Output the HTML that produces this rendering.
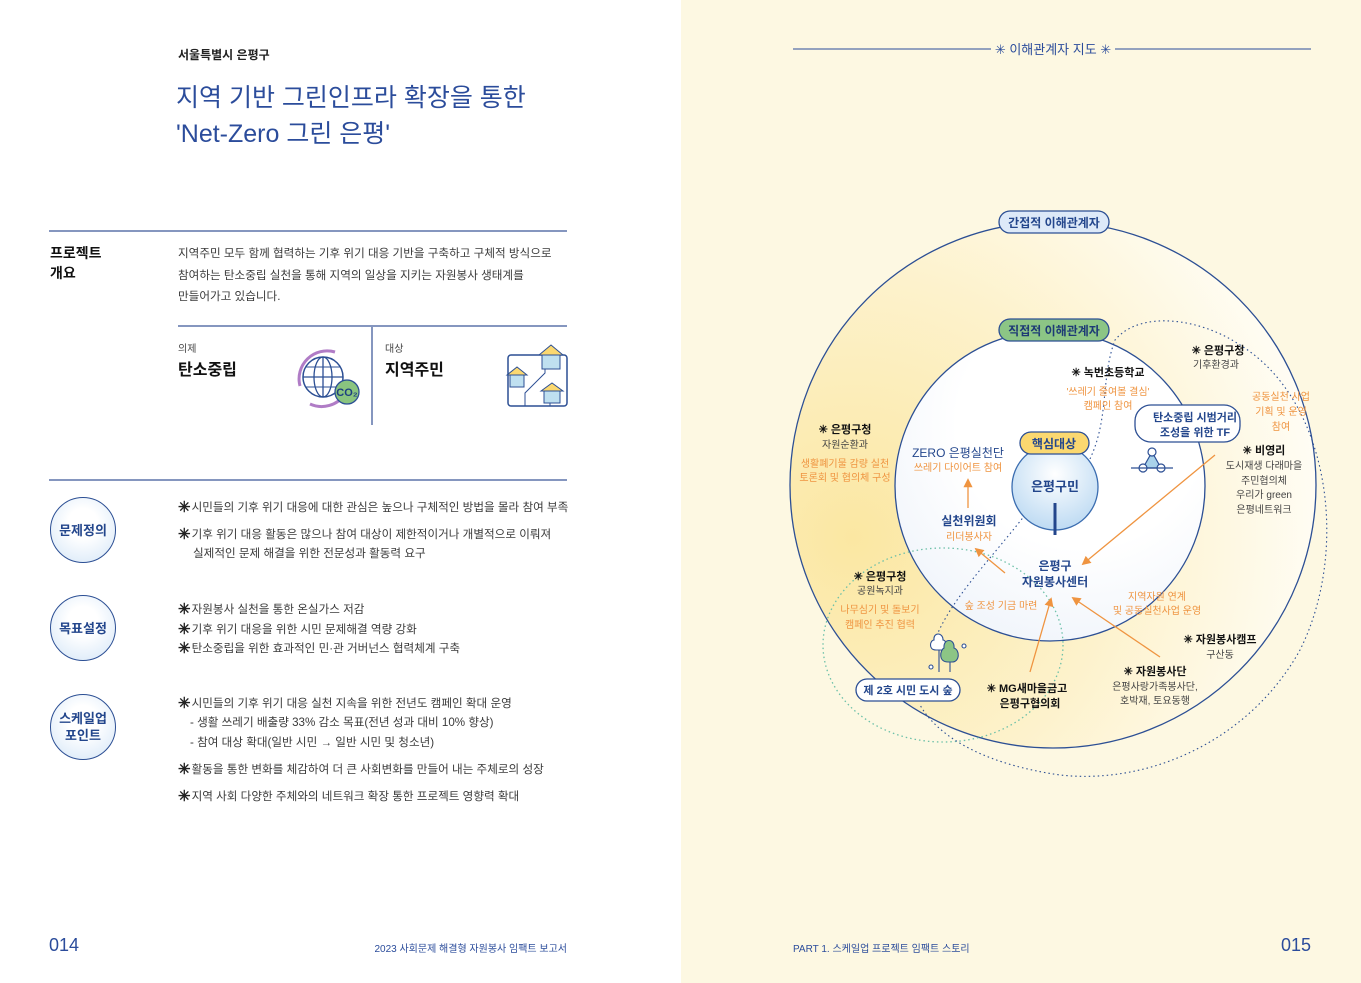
<!DOCTYPE html>
<html><head><meta charset="utf-8"><style>
*{margin:0;padding:0;box-sizing:border-box}
body{width:1361px;height:983px;position:relative;overflow:hidden;background:#fff;font-family:"Liberation Sans","Noto Sans CJK KR",sans-serif;color:#333}
.a{position:absolute;white-space:nowrap}
.t{font-size:11.6px;color:#3a3a3a}
.t b{font-size:15px;line-height:12px;color:#222;vertical-align:-1px;margin-right:1px}
.hr{position:absolute;height:2px;background:#8596bf}
.circ{position:absolute;width:66px;height:66px;border-radius:50%;border:1.5px solid #2c4f94;background:radial-gradient(circle at 50% 40%,#fff 30%,#d3e5f7 100%);display:flex;align-items:center;justify-content:center;text-align:center;font-weight:bold;font-size:13px;color:#23468c;line-height:17px}
</style></head><body>
<div style="position:absolute;left:681px;top:0;width:680px;height:983px;background:#fdf8e2"></div>

<div class="a" style="left:178px;top:46px;font-size:12px;font-weight:bold;color:#222">서울특별시 은평구</div>
<div class="a" style="left:176px;top:80px;font-size:25px;color:#2b4c9b;line-height:36px">지역 기반 그린인프라 확장을 통한<br>'Net-Zero 그린 은평'</div>

<div class="hr" style="left:49px;top:230px;width:518px"></div>
<div class="a" style="left:50px;top:243px;font-size:14px;font-weight:bold;color:#111;line-height:20px">프로젝트<br>개요</div>
<div class="a t" style="left:178px;top:243px;line-height:21.5px">지역주민 모두 함께 협력하는 기후 위기 대응 기반을 구축하고 구체적 방식으로<br>참여하는 탄소중립 실천을 통해 지역의 일상을 지키는 자원봉사 생태계를<br>만들어가고 있습니다.</div>
<div class="hr" style="left:178px;top:325px;width:389px"></div>
<div style="position:absolute;left:371px;top:326px;width:2px;height:99px;background:#8596bf"></div>
<div class="a" style="left:178px;top:340px;font-size:10px;color:#444">의제</div>
<div class="a" style="left:178px;top:356px;font-size:16px;font-weight:bold;color:#111">탄소중립</div>
<div class="a" style="left:385px;top:340px;font-size:10px;color:#444">대상</div>
<div class="a" style="left:385px;top:356px;font-size:16px;font-weight:bold;color:#111">지역주민</div>
<svg class="a" style="left:290px;top:344px" width="75" height="70" viewBox="0 0 75 70">
<path d="M10 42 A28 28 0 0 1 45 8" fill="none" stroke="#b07cc6" stroke-width="3"/>
<path d="M20 60 A28 28 0 0 0 55 50" fill="none" stroke="#b07cc6" stroke-width="3"/>
<circle cx="33" cy="33" r="20" fill="none" stroke="#2c4f94" stroke-width="1.5"/>
<ellipse cx="33" cy="33" rx="9" ry="20" fill="none" stroke="#2c4f94" stroke-width="1.3"/>
<line x1="13" y1="33" x2="53" y2="33" stroke="#2c4f94" stroke-width="1.3"/><line x1="33" y1="13" x2="33" y2="53" stroke="#2c4f94" stroke-width="1.3"/>
<line x1="16" y1="23" x2="50" y2="23" stroke="#2c4f94"/><line x1="16" y1="43" x2="50" y2="43" stroke="#2c4f94"/>
<circle cx="57" cy="48" r="12" fill="#8ac47f" stroke="#2c4f94" stroke-width="1.3"/>
<text x="57" y="52" font-size="11" text-anchor="middle" fill="#1d3f80" font-weight="bold">CO₂</text>
</svg>
<svg class="a" style="left:505px;top:343px" width="65" height="66" viewBox="0 0 65 66">
<rect x="3" y="12" width="59" height="51" rx="3" fill="#fff" stroke="#2c4f94" stroke-width="1.5"/>
<path d="M3 32 H20 M40 12 V30 L20 50 V63 M45 45 V63" stroke="#2c4f94" fill="none"/>
<polygon points="34,12 46,2 58,12" fill="#fbd870" stroke="#2c4f94"/><rect x="37" y="12" width="18" height="14" fill="#bfe0f0" stroke="#2c4f94"/>
<polygon points="2,32 12,24 22,32" fill="#fbd870" stroke="#2c4f94"/><rect x="5" y="32" width="14" height="12" fill="#bfe0f0" stroke="#2c4f94"/>
<polygon points="36,48 47,40 58,48" fill="#fbd870" stroke="#2c4f94"/><rect x="39" y="48" width="16" height="12" fill="#bfe0f0" stroke="#2c4f94"/>
</svg>

<div class="hr" style="left:49px;top:479px;width:518px"></div>
<div class="circ" style="left:50px;top:497px">문제정의</div>
<div class="circ" style="left:50px;top:595px">목표설정</div>
<div class="circ" style="left:50px;top:694px">스케일업<br>포인트</div>

<div class="a t" style="left:178px;top:499px"><b>✳</b>시민들의 기후 위기 대응에 대한 관심은 높으나 구체적인 방법을 몰라 참여 부족</div>
<div class="a t" style="left:178px;top:526px"><b>✳</b>기후 위기 대응 활동은 많으나 참여 대상이 제한적이거나 개별적으로 이뤄져</div>
<div class="a t" style="left:193px;top:545px">실제적인 문제 해결을 위한 전문성과 활동력 요구</div>
<div class="a t" style="left:178px;top:601px"><b>✳</b>자원봉사 실천을 통한 온실가스 저감</div>
<div class="a t" style="left:178px;top:621px"><b>✳</b>기후 위기 대응을 위한 시민 문제해결 역량 강화</div>
<div class="a t" style="left:178px;top:640px"><b>✳</b>탄소중립을 위한 효과적인 민·관 거버넌스 협력체계 구축</div>
<div class="a t" style="left:178px;top:695px"><b>✳</b>시민들의 기후 위기 대응 실천 지속을 위한 전년도 캠페인 확대 운영</div>
<div class="a t" style="left:190px;top:714px">- 생활 쓰레기 배출량 33% 감소 목표(전년 성과 대비 10% 향상)</div>
<div class="a t" style="left:190px;top:734px">- 참여 대상 확대(일반 시민 → 일반 시민 및 청소년)</div>
<div class="a t" style="left:178px;top:761px"><b>✳</b>활동을 통한 변화를 체감하여 더 큰 사회변화를 만들어 내는 주체로의 성장</div>
<div class="a t" style="left:178px;top:788px"><b>✳</b>지역 사회 다양한 주체와의 네트워크 확장 통한 프로젝트 영향력 확대</div>

<div class="a" style="left:49px;top:935px;font-size:18px;color:#2b4c9b">014</div>
<div class="a" style="right:794px;top:940px;font-size:10px;color:#2b4c9b">2023 사회문제 해결형 자원봉사 임팩트 보고서</div>
<div class="a" style="left:793px;top:940px;font-size:10px;color:#2b4c9b">PART 1. 스케일업 프로젝트 임팩트 스토리</div>
<div class="a" style="right:50px;top:935px;font-size:18px;color:#2b4c9b">015</div>

<svg class="a" style="left:0;top:0" width="1361" height="983" viewBox="0 0 1361 983" font-family="Liberation Sans, Noto Sans CJK KR, sans-serif">
<defs>
<radialGradient id="yg" cx="0.12" cy="0.6" r="0.9"><stop offset="0" stop-color="#fbe7a2"/><stop offset="0.55" stop-color="#fdf2cc"/><stop offset="1" stop-color="#fffdf5"/></radialGradient>
<radialGradient id="wg" cx="0.6" cy="0.3" r="0.8"><stop offset="0.5" stop-color="#fff"/><stop offset="1" stop-color="#eef3fa"/></radialGradient>
<radialGradient id="bg" cx="0.5" cy="0.35" r="0.7"><stop offset="0" stop-color="#fff"/><stop offset="1" stop-color="#b9d8f2"/></radialGradient>
<marker id="ar" viewBox="0 0 10 10" refX="8" refY="5" markerWidth="7" markerHeight="7" orient="auto"><path d="M0 0 L10 5 L0 10 z" fill="#ef9440"/></marker>
</defs>
<line x1="793" y1="49" x2="991" y2="49" stroke="#2b4c9b"/><line x1="1115" y1="49" x2="1311" y2="49" stroke="#2b4c9b"/>
<text x="1053" y="54" font-size="13" text-anchor="middle" fill="#2b4c9b">✳ 이해관계자 지도 ✳</text>

<circle cx="1053" cy="485" r="263" fill="url(#yg)" stroke="#2c4f94" stroke-width="1.3"/>
<circle cx="1050" cy="486" r="155" fill="url(#wg)" stroke="#2c4f94" stroke-width="1.3"/>
<ellipse cx="943" cy="645" rx="120" ry="97" fill="none" stroke="#6cc0a8" stroke-width="1.3" stroke-dasharray="1.5 3"/>
<path d="M1088 463 C1110 420 1100 380 1115 340 C1140 310 1200 318 1240 345 C1330 400 1350 550 1300 650 C1250 740 1150 785 1060 775 C990 765 940 740 920 705" fill="none" stroke="#2c4f94" stroke-width="1.1" stroke-dasharray="1.5 3"/>
<path d="M1025 515 C990 560 950 600 935 640" fill="none" stroke="#2c4f94" stroke-width="1.1" stroke-dasharray="1.5 3"/>

<rect x="999" y="211" width="110" height="22" rx="11" fill="#dde9f8" stroke="#2c4f94" stroke-width="1.3"/>
<text x="1054" y="227" font-size="12" font-weight="bold" text-anchor="middle" fill="#23468c">간접적 이해관계자</text>
<rect x="999" y="319" width="110" height="22" rx="11" fill="#8cc585" stroke="#2c4f94" stroke-width="1.3"/>
<text x="1054" y="335" font-size="12" font-weight="bold" text-anchor="middle" fill="#1d3a75">직접적 이해관계자</text>

<circle cx="1055" cy="487" r="43" fill="url(#bg)" stroke="#3b6db0" stroke-width="1.3"/>
<rect x="1020" y="432" width="69" height="22" rx="11" fill="#fbd870" stroke="#2c4f94" stroke-width="1.3"/>
<text x="1054" y="448" font-size="12" font-weight="bold" text-anchor="middle" fill="#23468c">핵심대상</text>
<text x="1055" y="491" font-size="13" font-weight="bold" text-anchor="middle" fill="#23468c">은평구민</text>
<line x1="1055" y1="503" x2="1055" y2="535" stroke="#23468c" stroke-width="3"/>
<text x="1055" y="570" font-size="12" font-weight="bold" text-anchor="middle" fill="#23468c">은평구</text>
<text x="1055" y="586" font-size="12" font-weight="bold" text-anchor="middle" fill="#23468c">자원봉사센터</text>

<g text-anchor="middle" font-size="10">
<text x="958" y="457" font-size="12" fill="#23468c">ZERO 은평실천단</text>
<text x="958" y="471" fill="#ef9440">쓰레기 다이어트 참여</text>
<text x="969" y="525" font-size="12" font-weight="bold" fill="#23468c">실천위원회</text>
<text x="969" y="540" fill="#ef9440">리더봉사자</text>
<text x="1108" y="376" font-size="11" font-weight="bold" fill="#111">✳ 녹번초등학교</text>
<text x="1108" y="395" fill="#ef9440">'쓰레기 줄여볼 결심'</text>
<text x="1108" y="409" fill="#ef9440">캠페인 참여</text>
<text x="1218" y="354" font-size="11" font-weight="bold" fill="#111">✳ 은평구청</text>
<text x="1216" y="368" fill="#444">기후환경과</text>
<text x="1281" y="400" fill="#ef9440">공동실천 사업</text>
<text x="1281" y="415" fill="#ef9440">기획 및 운영</text>
<text x="1281" y="430" fill="#ef9440">참여</text>
<text x="1264" y="454" font-size="11" font-weight="bold" fill="#111">✳ 비영리</text>
<text x="1264" y="469" fill="#444">도시재생 다래마을</text>
<text x="1264" y="484" fill="#444">주민협의체</text>
<text x="1264" y="498" fill="#444">우리가 green</text>
<text x="1264" y="513" fill="#444">은평네트워크</text>
<text x="845" y="433" font-size="11" font-weight="bold" fill="#111">✳ 은평구청</text>
<text x="845" y="448" fill="#444">자원순환과</text>
<text x="845" y="467" fill="#ef9440">생활폐기물 감량 실천</text>
<text x="845" y="481" fill="#ef9440">토론회 및 협의체 구성</text>
<text x="880" y="580" font-size="11" font-weight="bold" fill="#111">✳ 은평구청</text>
<text x="880" y="594" fill="#444">공원녹지과</text>
<text x="880" y="613" fill="#ef9440">나무심기 및 돌보기</text>
<text x="880" y="628" fill="#ef9440">캠페인 추진 협력</text>
<text x="1001" y="609" fill="#ef9440">숲 조성 기금 마련</text>
<text x="1157" y="600" fill="#ef9440">지역자원 연계</text>
<text x="1157" y="614" fill="#ef9440">및 공동실천사업 운영</text>
<text x="1220" y="643" font-size="11" font-weight="bold" fill="#111">✳ 자원봉사캠프</text>
<text x="1220" y="658" fill="#444">구산동</text>
<text x="1155" y="675" font-size="11" font-weight="bold" fill="#111">✳ 자원봉사단</text>
<text x="1155" y="690" fill="#444">은평사랑가족봉사단,</text>
<text x="1155" y="704" fill="#444">호박재, 토요동행</text>
<text x="1027" y="692" font-size="11" font-weight="bold" fill="#111">✳ MG새마을금고</text>
<text x="1030" y="707" font-size="11" font-weight="bold" fill="#111">은평구협의회</text>
</g>

<rect x="1135" y="405" width="105" height="37" rx="16" fill="#fff" stroke="#2c4f94" stroke-width="1.3"/>
<text x="1195" y="421" font-size="11" font-weight="bold" text-anchor="middle" fill="#23468c">탄소중립 시범거리</text>
<text x="1195" y="436" font-size="11" font-weight="bold" text-anchor="middle" fill="#23468c">조성을 위한 TF</text>
<rect x="856" y="679" width="104" height="22" rx="11" fill="#fff" stroke="#2c4f94" stroke-width="1.3"/>
<text x="908" y="694" font-size="11" font-weight="bold" text-anchor="middle" fill="#23468c">제 2호 시민 도시 숲</text>

<g stroke="#2c4f94" stroke-width="1.2">
<polygon points="1152,452 1143,468 1161,468" fill="#a9d2ea"/>
<circle cx="1152" cy="452" r="4" fill="#fff"/><circle cx="1143" cy="468" r="4" fill="#fff"/><circle cx="1161" cy="468" r="4" fill="#fff"/>
<line x1="1131" y1="468" x2="1173" y2="468"/>
</g>
<g stroke="#2c4f94" stroke-width="1.1">
<path d="M936 650 C928 650 930 640 934 640 C933 632 943 632 943 640 C947 640 948 650 942 650 Z" fill="#fff"/>
<path d="M948 662 C938 662 940 650 944 648 C943 638 955 638 954 648 C960 650 960 662 952 662 Z" fill="#8cc585"/>
<line x1="939" y1="650" x2="939" y2="672"/><line x1="950" y1="662" x2="950" y2="672"/>
<circle cx="964" cy="646" r="2" fill="#fff"/><circle cx="931" cy="667" r="2" fill="#fff"/>
</g>

<g stroke="#ef9440" stroke-width="1.3" marker-end="url(#ar)">
<line x1="968" y1="508" x2="968" y2="480"/>
<line x1="1215" y1="455" x2="1083" y2="564"/>
<line x1="1005" y1="573" x2="976" y2="549"/>
<line x1="1030" y1="672" x2="1051" y2="599"/>
<line x1="1160" y1="657" x2="1073" y2="598"/>
</g>
</svg>
</body></html>
